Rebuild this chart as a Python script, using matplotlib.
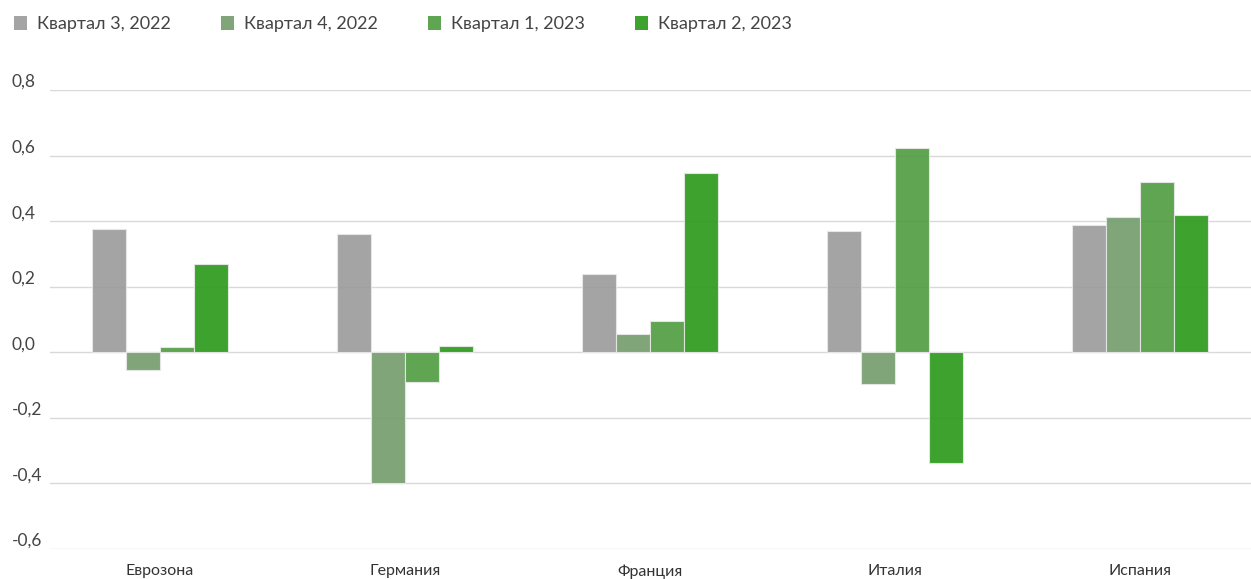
import numpy as np
import matplotlib
matplotlib.use("Agg")
from matplotlib import pyplot as plt
from matplotlib.patches import Patch

plt.rcParams["font.family"] = ["Lato", "DejaVu Sans"]

regions = ["Еврозона", "Германия", "Франция", "Италия", "Испания"]
quarters = ["Квартал 3, 2022", "Квартал 4, 2022", "Квартал 1, 2023", "Квартал 2, 2023"]
q3_2022 = [0.377, 0.362, 0.240, 0.371, 0.387]
q4_2022 = [-0.055, -0.400, 0.055, -0.097, 0.414]
q1_2023 = [0.015, -0.091, 0.094, 0.624, 0.520]
q2_2023 = [0.270, 0.018, 0.548, -0.338, 0.420]
series = [q3_2022, q4_2022, q1_2023, q2_2023]
colors = ["#9c9c9c", "#749e6e", "#519d43", "#2d9a1c"]
yticks = [-0.6, -0.4, -0.2, 0.0, 0.2, 0.4, 0.6, 0.8]

fig = plt.figure(figsize=(12.51, 5.79), dpi=100)
ax = fig.add_axes([50 / 1251, 30 / 579, 1201 / 1251, 459 / 579])

x = np.arange(len(regions))
width = 0.139
for i, (vals, col) in enumerate(zip(series, colors)):
    ax.bar(x + (i - 1.5) * width, vals, width, color=col, alpha=0.92,
           edgecolor="#e8e8e8", linewidth=0.8, zorder=3)

ax.set_xlim(-0.449, 4.453)
ax.set_ylim(-0.6, 0.8)
ax.set_yticks(yticks)
ax.set_yticklabels([f"{v:.1f}".replace(".", ",") for v in yticks])
for lab in ax.get_yticklabels():
    lab.set_horizontalalignment("left")
    lab.set_verticalalignment("bottom")
ax.tick_params(axis="y", length=0, pad=27.5, labelsize=12.5, labelcolor="#444444")
ax.set_xticks(x)
ax.set_xticklabels(regions)
ax.tick_params(axis="x", length=0, pad=11, labelsize=11.5, labelcolor="#333333")
ax.grid(axis="y", color="#d9d9d9", linewidth=1.0, zorder=0)
for s in ax.spines.values():
    s.set_visible(False)

handles = [Patch(facecolor=c, alpha=0.92) for c in colors]
fig.legend(handles, quarters, loc="upper left", bbox_to_anchor=(-0.002, 1.0),
           ncol=4, frameon=False, fontsize=13, handlelength=0.75, handleheight=0.75,
           handletextpad=0.55, columnspacing=2.75, labelcolor="#444444",
           borderaxespad=0.5)

fig.savefig("out.png", dpi=100)
